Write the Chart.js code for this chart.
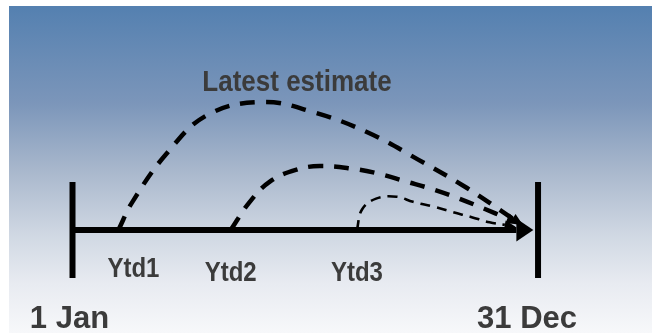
<!DOCTYPE html>
<html>
<head>
<meta charset="utf-8">
<script src="https://cdn.jsdelivr.net/npm/chart.js@4/dist/chart.umd.min.js"></script>
<style>
  html, body { margin: 0; padding: 0; background: #ffffff; }
  #wrap { width: 652px; height: 333px; position: relative; }
</style>
</head>
<body>
<div id="wrap"><canvas id="chart"></canvas></div>
<script>
// Calendar year, in days from 1 Jan
const yearDays = [0, 365];
const yearLabels = ['1 Jan', '31 Dec'];

// Year-to-date checkpoints at which the full-year figure is re-estimated
const ytdLabels = ['Ytd1', 'Ytd2', 'Ytd3'];
const ytdDays = [36, 124, 223];

// Path of each full-year estimate: day of year and estimate level above the actual line
const ytd1Days  = [36, 47, 74, 106, 149, 189, 232, 271, 309, 345];
const ytd1Level = [0, 22, 60, 90, 100, 92, 76, 55, 33, 9];

const ytd2Days  = [124, 139, 155, 175, 194, 219, 240, 261, 282, 302, 322, 341];
const ytd2Level = [0, 22, 38, 47, 50, 48, 44, 38, 32, 25, 17, 9];

const ytd3Days  = [223, 227, 238, 254, 267, 284, 298, 313, 327, 339];
const ytd3Level = [0, 16, 24.5, 26, 22, 18, 14, 10, 6, 4];

// Actual-to-date timeline arrow and the year boundary markers
const timelineDays = [0, 348];
const markerLevels = [-37.5, 37.5];

const headline = 'Latest estimate';

const toPoints = (xs, ys) => xs.map((x, i) => ({ x, y: ys[i] }));

// Page background: blue-to-white wash
const backdrop = {
  id: 'backdrop',
  beforeDraw(chart) {
    const { ctx, width, height } = chart;
    ctx.save();
    ctx.fillStyle = '#ffffff';
    ctx.fillRect(0, 0, width, height);
    const g = ctx.createLinearGradient(0, 6, 0, height);
    g.addColorStop(0.00, '#5480b0');
    g.addColorStop(0.30, '#7c96ba');
    g.addColorStop(0.50, '#a8b7cc');
    g.addColorStop(0.70, '#d0d8e3');
    g.addColorStop(0.85, '#e8ebf1');
    g.addColorStop(1.00, '#f7f8fa');
    ctx.fillStyle = g;
    ctx.fillRect(9, 6, width - 9, height - 6);
    ctx.restore();
  }
};

// Filled arrowheads at the end of any dataset that asks for one
const arrowheads = {
  id: 'arrowheads',
  afterDatasetsDraw(chart) {
    const { ctx } = chart;
    chart.data.datasets.forEach((ds, i) => {
      if (!ds.arrowLength) return;
      const pts = chart.getDatasetMeta(i).data;
      const end = pts[pts.length - 1];
      const prev = pts[pts.length - 2];
      let fx = prev.x, fy = prev.y;
      if (ds.tension && end.cp1x !== undefined && (end.cp1x !== end.x || end.cp1y !== end.y)) {
        fx = end.cp1x; fy = end.cp1y;
      }
      const a = Math.atan2(end.y - fy, end.x - fx);
      const L = ds.arrowLength, W = ds.arrowWidth;
      ctx.save();
      ctx.translate(end.x, end.y);
      ctx.rotate(a);
      ctx.beginPath();
      ctx.moveTo(L, 0);
      ctx.lineTo(0, -W / 2);
      ctx.lineTo(0, W / 2);
      ctx.closePath();
      ctx.fillStyle = ds.borderColor;
      ctx.fill();
      ctx.restore();
    });
  }
};

// Text labels placed through the chart scales
const labels = {
  id: 'labels',
  afterDraw(chart, args, opts) {
    const { ctx, scales: { x, y } } = chart;
    const base = y.getPixelForValue(0);
    const font = size => 'bold ' + size + 'px "Liberation Sans", Arial, sans-serif';
    const put = (text, px, py, stretch) => {
      ctx.save();
      ctx.translate(px, py);
      ctx.scale(1, stretch);
      ctx.fillText(text, 0, 0);
      ctx.restore();
    };
    ctx.save();
    ctx.fillStyle = opts.color;
    ctx.textAlign = 'center';
    ctx.textBaseline = 'alphabetic';

    ctx.font = font(opts.headlineSize);
    put(headline, x.getPixelForValue(opts.headlineDay), y.getPixelForValue(opts.headlineLevel), opts.stretch);

    ctx.font = font(opts.ytdSize);
    ytdLabels.forEach((t, i) => {
      put(t, x.getPixelForValue(ytdDays[i]) + opts.ytdShift[i], base + opts.ytdDrop[i], opts.stretch);
    });

    ctx.font = font(opts.yearSize);
    yearLabels.forEach((t, i) => {
      put(t, x.getPixelForValue(yearDays[i]) + opts.yearShift[i], base + opts.yearDrop, 1);
    });
    ctx.restore();
  }
};

const dashed = (data, width, dash) => ({
  data,
  borderColor: '#000000',
  borderWidth: width,
  borderDash: dash,
  borderCapStyle: 'butt',
  tension: 0.4,
  pointRadius: 0,
  fill: false,
  arrowLength: 13,
  arrowWidth: 11
});

new Chart(document.getElementById('chart'), {
  type: 'line',
  data: {
    datasets: [
      {
        data: toPoints(timelineDays, [0, 0]),
        borderColor: '#000000', borderWidth: 6, pointRadius: 0, tension: 0,
        arrowLength: 17, arrowWidth: 23
      },
      {
        data: toPoints([yearDays[0], yearDays[0]], markerLevels),
        borderColor: '#000000', borderWidth: 6, pointRadius: 0, tension: 0
      },
      {
        data: toPoints([yearDays[1], yearDays[1]], markerLevels),
        borderColor: '#000000', borderWidth: 6, pointRadius: 0, tension: 0
      },
      dashed(toPoints(ytd1Days, ytd1Level), 4.5, [15, 11]),
      dashed(toPoints(ytd2Days, ytd2Level), 4.5, [15, 11]),
      Object.assign(dashed(toPoints(ytd3Days, ytd3Level), 2.6, [10, 7]), { arrowLength: 11, arrowWidth: 9 })
    ]
  },
  options: {
    responsive: true,
    maintainAspectRatio: false,
    animation: false,
    layout: { padding: 0 },
    events: [],
    scales: {
      x: { type: 'linear', display: false, min: -56.85, max: 454.35 },
      y: { type: 'linear', display: false, min: -80.47, max: 179.69 }
    },
    plugins: {
      legend: { display: false },
      tooltip: { enabled: false },
      labels: {
        color: '#3b3b3b',
        stretch: 1.13,
        headlineSize: 26,
        headlineDay: 176,
        headlineLevel: 108.6,
        ytdSize: 24,
        ytdShift: [15, 0, 0],
        ytdDrop: [47, 51, 51],
        yearSize: 31,
        yearShift: [-3, -11],
        yearDrop: 98
      }
    }
  },
  plugins: [backdrop, arrowheads, labels]
});
</script>
</body>
</html>
